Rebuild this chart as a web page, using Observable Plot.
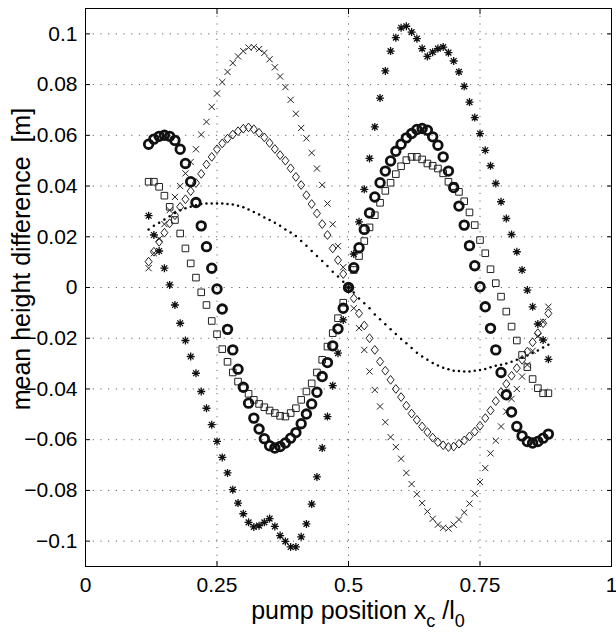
<!DOCTYPE html>
<html><head><meta charset="utf-8">
<script src="https://cdn.jsdelivr.net/npm/d3@7"></script>
<script src="https://cdn.jsdelivr.net/npm/@observablehq/plot@0.6"></script>
<style>
html,body{margin:0;padding:0;background:#fff;}
#chart svg{display:block;}
</style></head><body><div id="chart"></div>
<script>
// pump position samples x_c / l_0
const xPos = [0.12,0.13,0.14,0.15,0.16,0.17,0.18,0.19,0.20,0.21,0.22,0.23,0.24,0.25,0.26,0.27,0.28,0.29,0.30,
  0.31,0.32,0.33,0.34,0.35,0.36,0.37,0.38,0.39,0.40,0.41,0.42,0.43,0.44,0.45,0.46,0.47,0.48,0.49,0.50,
  0.51,0.52,0.53,0.54,0.55,0.56,0.57,0.58,0.59,0.60,0.61,0.62,0.63,0.64,0.65,0.66,0.67,0.68,0.69,0.70,
  0.71,0.72,0.73,0.74,0.75,0.76,0.77,0.78,0.79,0.80,0.81,0.82,0.83,0.84,0.85,0.86,0.87,0.88];

// series: bold circles
const circleY = [0.0565,0.0585,0.0596,0.0600,0.0596,0.0580,0.0545,0.0489,0.0417,0.0335,0.0243,0.0161,0.0076,-0.0006,
  -0.0085,-0.0165,-0.0246,-0.0322,-0.0393,-0.0456,-0.0515,-0.0558,-0.0596,-0.0624,-0.0633,-0.0627,-0.0613,-0.0594,
  -0.0572,-0.0537,-0.0499,-0.0459,-0.0413,-0.0351,-0.0296,-0.0230,-0.0163,-0.0082,0.0000,0.0078,0.0157,0.0229,
  0.0294,0.0357,0.0413,0.0459,0.0499,0.0537,0.0565,0.0590,0.0607,0.0623,0.0627,0.0620,0.0594,0.0561,0.0515,
  0.0459,0.0394,0.0321,0.0246,0.0165,0.0086,0.0003,-0.0076,-0.0161,-0.0246,-0.0335,-0.0423,-0.0491,-0.0548,
  -0.0585,-0.0607,-0.0613,-0.0607,-0.0594,-0.0578];

// series: squares
const squareY = [0.0417,0.0417,0.0397,0.0362,0.0318,0.0266,0.0213,0.0154,0.0095,0.0039,-0.0019,-0.0069,-0.0132,
  -0.0184,-0.0243,-0.0293,-0.0335,-0.0371,-0.0397,-0.0419,-0.0443,-0.0459,-0.0472,-0.0485,-0.0495,-0.0506,-0.0509,
  -0.0495,-0.0476,-0.0443,-0.0410,-0.0378,-0.0335,-0.0285,-0.0233,-0.0180,-0.0121,-0.0060,0.0000,0.0069,0.0124,
  0.0183,0.0237,0.0285,0.0334,0.0381,0.0413,0.0447,0.0478,0.0502,0.0515,0.0515,0.0505,0.0489,0.0480,0.0469,
  0.0450,0.0417,0.0400,0.0377,0.0340,0.0296,0.0246,0.0187,0.0135,0.0072,0.0017,-0.0036,-0.0095,-0.0154,-0.0209,
  -0.0266,-0.0314,-0.0361,-0.0397,-0.0417,-0.0417];

// series: diamonds
const diamondY = [0.0102,0.0141,0.0180,0.0216,0.0253,0.0285,0.0318,0.0348,0.0380,0.0412,0.0448,0.0485,0.0515,
  0.0545,0.0568,0.0587,0.0603,0.0616,0.0626,0.0631,0.0624,0.0610,0.0592,0.0570,0.0546,0.0522,0.0500,0.0470,
  0.0436,0.0404,0.0364,0.0329,0.0292,0.0250,0.0207,0.0154,0.0108,0.0053,0.0000,-0.0043,-0.0102,-0.0150,-0.0200,
  -0.0246,-0.0292,-0.0328,-0.0364,-0.0400,-0.0432,-0.0466,-0.0497,-0.0522,-0.0548,-0.0570,-0.0592,-0.0610,
  -0.0622,-0.0629,-0.0627,-0.0616,-0.0603,-0.0587,-0.0568,-0.0545,-0.0515,-0.0485,-0.0448,-0.0412,-0.0380,
  -0.0348,-0.0318,-0.0285,-0.0253,-0.0216,-0.0180,-0.0141,-0.0102];

// series: x markers
const crossY = [0.0076,0.0135,0.0192,0.0250,0.0305,0.0357,0.0400,0.0450,0.0495,0.0545,0.0603,0.0653,0.0712,
  0.0765,0.0810,0.0850,0.0885,0.0911,0.0932,0.0946,0.0948,0.0940,0.0925,0.0900,0.0868,0.0832,0.0790,0.0740,
  0.0685,0.0629,0.0588,0.0531,0.0469,0.0404,0.0331,0.0249,0.0163,0.0080,0.0000,-0.0082,-0.0160,-0.0246,-0.0331,
  -0.0404,-0.0469,-0.0531,-0.0590,-0.0629,-0.0675,-0.0731,-0.0775,-0.0815,-0.0850,-0.0883,-0.0912,-0.0935,
  -0.0947,-0.0950,-0.0935,-0.0915,-0.0887,-0.0852,-0.0813,-0.0767,-0.0712,-0.0654,-0.0604,-0.0548,-0.0489,
  -0.0439,-0.0400,-0.0351,-0.0305,-0.0250,-0.0192,-0.0135,-0.0076];

// series: asterisks
const starY = [0.0283,0.0207,0.0144,0.0076,0.0010,-0.0069,-0.0141,-0.0209,-0.0272,-0.0338,-0.0410,-0.0476,-0.0541,
  -0.0607,-0.0670,-0.0731,-0.0797,-0.0850,-0.0892,-0.0926,-0.0944,-0.0939,-0.0926,-0.0911,-0.0942,-0.0978,-0.1001,
  -0.1023,-0.1023,-0.0983,-0.0932,-0.0854,-0.0747,-0.0633,-0.0509,-0.0387,-0.0259,-0.0128,0.0000,0.0132,0.0259,
  0.0387,0.0509,0.0633,0.0747,0.0854,0.0932,0.0985,0.1024,0.1030,0.1007,0.0981,0.0942,0.0911,0.0928,0.0942,
  0.0948,0.0926,0.0893,0.0850,0.0793,0.0731,0.0670,0.0607,0.0541,0.0480,0.0410,0.0338,0.0272,0.0209,0.0141,
  0.0069,-0.0010,-0.0076,-0.0144,-0.0207,-0.0283];

// series: small dots
const dotY = [0.0229,0.0243,0.0255,0.0268,0.0281,0.0294,0.0305,0.0312,0.0318,0.0324,0.0329,0.0331,0.0331,0.0331,
  0.0331,0.0329,0.0327,0.0322,0.0316,0.0308,0.0298,0.0288,0.0276,0.0266,0.0255,0.0243,0.0229,0.0217,0.0203,
  0.0183,0.0165,0.0144,0.0124,0.0104,0.0085,0.0062,0.0043,0.0023,0.0000,-0.0020,-0.0043,-0.0062,-0.0082,-0.0106,
  -0.0125,-0.0145,-0.0165,-0.0183,-0.0203,-0.0220,-0.0239,-0.0257,-0.0272,-0.0285,-0.0298,-0.0308,-0.0316,
  -0.0322,-0.0328,-0.0329,-0.0331,-0.0331,-0.0328,-0.0325,-0.0321,-0.0314,-0.0309,-0.0305,-0.0300,-0.0293,
  -0.0285,-0.0277,-0.0268,-0.0258,-0.0248,-0.0237,-0.0226];

const xTicks = [0, 0.25, 0.5, 0.75, 1];
const yTicks = [-0.1, -0.08, -0.06, -0.04, -0.02, 0, 0.02, 0.04, 0.06, 0.08, 0.1];
const yLabelText = "mean height difference  [m]";
const xLabelMain = "pump position x";
const xLabelSub1 = "c";
const xLabelMid = " /l";
const xLabelSub2 = "0";

const FONT = "'Liberation Sans', Arial, Helvetica, sans-serif";
const fmt = d => d < 0 ? "\u2212" + String(-d) : String(d);
const half = s => Math.sqrt(s / Math.PI);
const symSquare = {draw(c, s){const r = half(s); c.moveTo(-r,-r); c.lineTo(r,-r); c.lineTo(r,r); c.lineTo(-r,r); c.closePath();}};
const symDiamond = {draw(c, s){const r = half(s), w = r*0.8; c.moveTo(0,-r); c.lineTo(w,0); c.lineTo(0,r); c.lineTo(-w,0); c.closePath();}};
const symTimes = {draw(c, s){const r = half(s); c.moveTo(-r,-r); c.lineTo(r,r); c.moveTo(-r,r); c.lineTo(r,-r);}};
const symStar = {draw(c, s){const r = half(s), d = r*0.72; c.moveTo(-r,0); c.lineTo(r,0); c.moveTo(0,-r); c.lineTo(0,r); c.moveTo(-d,-d); c.lineTo(d,d); c.moveTo(-d,d); c.lineTo(d,-d);}};

const gridStyle = {stroke: "#666", strokeOpacity: 1, strokeWidth: 1, strokeDasharray: "1.2,6.5"};
const blank = () => "";

const chart = Plot.plot({
  width: 616, height: 642,
  marginLeft: 85, marginRight: 5, marginTop: 8, marginBottom: 76,
  style: {fontFamily: FONT, fontSize: "21px", color: "#000", background: "#fff", overflow: "visible"},
  x: {domain: [0, 1]},
  y: {domain: [-0.11, 0.11]},
  marks: [
    Plot.gridX(xTicks, gridStyle),
    Plot.gridY(yTicks, gridStyle),
    Plot.axisX(xTicks, {anchor: "bottom", tickSize: 0, tickPadding: 11, tickFormat: fmt, label: null, fontSize: 21, fill: "#000"}),
    Plot.axisY(yTicks, {anchor: "left", tickSize: 0, tickPadding: 8, tickFormat: fmt, label: null, fontSize: 21, fill: "#000"}),
    Plot.axisX(xTicks, {anchor: "bottom", tickSize: -5, tickFormat: blank, label: null, stroke: "#000"}),
    Plot.axisX(xTicks, {anchor: "top", tickSize: -5, tickFormat: blank, label: null, stroke: "#000"}),
    Plot.axisY(yTicks, {anchor: "left", tickSize: -5, tickFormat: blank, label: null, stroke: "#000"}),
    Plot.axisY(yTicks, {anchor: "right", tickSize: -5, tickFormat: blank, label: null, stroke: "#000"}),
    Plot.dot(xPos, {x: xPos, y: dotY, r: 1.25, fill: "#000", stroke: "none"}),
    Plot.dot(xPos, {x: xPos, y: squareY, symbol: symSquare, r: 3.3, stroke: "#222", strokeWidth: 1, fill: "none"}),
    Plot.dot(xPos, {x: xPos, y: diamondY, symbol: symDiamond, r: 4.4, stroke: "#222", strokeWidth: 1, fill: "none"}),
    Plot.dot(xPos, {x: xPos, y: crossY, symbol: symTimes, r: 3.1, stroke: "#222", strokeWidth: 1, fill: "none"}),
    Plot.dot(xPos, {x: xPos, y: starY, symbol: symStar, r: 4.0, stroke: "#111", strokeWidth: 1.3, fill: "none"}),
    Plot.dot(xPos, {x: xPos, y: circleY, symbol: "circle", r: 4.3, stroke: "#111", strokeWidth: 2.8, fill: "none"}),
    Plot.frame({stroke: "#000", strokeWidth: 1})
  ]
});
document.getElementById("chart").appendChild(chart);

// axis labels (with TeX-like subscripts)
const svg = d3.select(chart);
const xs = chart.scale("x"), ys = chart.scale("y");
const xl = svg.append("text")
  .attr("x", xs.apply(0.5) + 10).attr("y", 619)
  .attr("text-anchor", "middle")
  .attr("font-family", FONT).attr("font-size", 25).attr("fill", "#000")
  .style("white-space", "pre");
xl.append("tspan").text(xLabelMain);
xl.append("tspan").attr("dy", 8).attr("font-size", 18).text(xLabelSub1);
xl.append("tspan").attr("dy", -8).text(xLabelMid);
xl.append("tspan").attr("dy", 8).attr("font-size", 18).text(xLabelSub2);

svg.append("text")
  .attr("transform", `translate(30,${ys.apply(0.011)}) rotate(-90)`)
  .attr("text-anchor", "middle")
  .attr("font-family", FONT).attr("font-size", 25).attr("fill", "#000")
  .style("white-space", "pre")
  .text(yLabelText);
</script></body></html>
